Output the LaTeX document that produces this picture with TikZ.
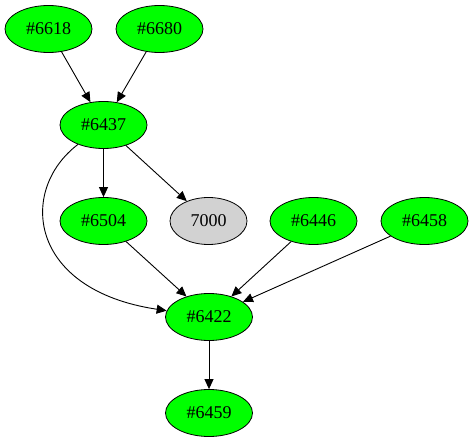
\documentclass[tikz,border=0pt]{standalone}
\usepackage{fontspec}
\setmainfont{Liberation Serif}
\usetikzlibrary{arrows.meta, shapes.geometric}

\begin{document}
\begin{tikzpicture}[x=1pt, y=-1pt, every node/.style={font=\fontsize{18}{20}\selectfont}]
  % -----------------------------
  % STYLES
  % -----------------------------
  \tikzset{
    task/.style={ellipse, draw=black, fill=green, line width=0.8pt,
                 minimum width=87pt, minimum height=47pt, inner sep=0pt},
    other/.style={task, fill=gray!35, minimum width=77pt},
    dep/.style={-{Triangle[length=10pt, width=9pt]}, line width=0.9pt},
  }

  % frame (fixes margins)
  \useasboundingbox (0,0) rectangle (473,443);

  % -----------------------------
  % NODES
  % -----------------------------
  \node[task] (n6618) at (48.5,29) {\#6618};
  \node[task] (n6680) at (159.5,29) {\#6680};

  \node[task] (n6437) at (103.5,125) {\#6437};

  \node[task]  (n6504) at (103.5,221) {\#6504};
  \node[other] (n7000) at (208.5,221) {7000};
  \node[task]  (n6446) at (313.5,221) {\#6446};
  \node[task]  (n6458) at (424.5,221) {\#6458};

  \node[task] (n6422) at (209,317) {\#6422};
  \node[task] (n6459) at (209,413) {\#6459};

  % -----------------------------
  % EDGES
  % -----------------------------
  \draw[dep] (n6618) -- (n6437);
  \draw[dep] (n6680) -- (n6437);
  \draw[dep] (n6437) -- (n6504);
  \draw[dep] (n6437) -- (n7000);
  \draw[dep] (n6437) .. controls (18,190) and (28,290) .. (n6422);
  \draw[dep] (n6504) -- (n6422);
  \draw[dep] (n6446) -- (n6422);
  \draw[dep] (n6458) -- (n6422);
  \draw[dep] (n6422) -- (n6459);
\end{tikzpicture}
\end{document}
